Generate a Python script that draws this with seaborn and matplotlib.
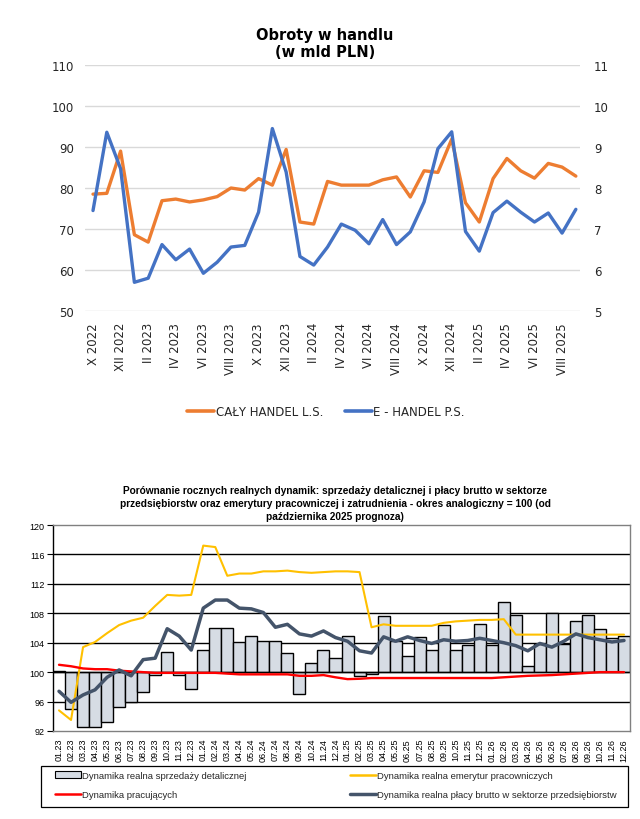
import numpy as np
import pandas as pd
import matplotlib
matplotlib.use("Agg")
import matplotlib.pyplot as plt
import seaborn as sns
from matplotlib.patches import Patch, Rectangle
from matplotlib.lines import Line2D

# ---------------- data: top chart ----------------
months_top = ["X 2022", "XI 2022", "XII 2022", "I 2023", "II 2023", "III 2023",
              "IV 2023", "V 2023", "VI 2023", "VII 2023", "VIII 2023", "IX 2023",
              "X 2023", "XI 2023", "XII 2023", "I 2024", "II 2024", "III 2024",
              "IV 2024", "V 2024", "VI 2024", "VII 2024", "VIII 2024", "IX 2024",
              "X 2024", "XI 2024", "XII 2024", "I 2025", "II 2025", "III 2025",
              "IV 2025", "V 2025", "VI 2025", "VII 2025", "VIII 2025", "IX 2025"]
caly_handel = [78.5, 78.7, 89.0, 68.6, 66.8, 76.9, 77.3, 76.6, 77.1, 77.9, 80.0, 79.5,
               82.3, 80.7, 89.4, 71.7, 71.2, 81.6, 80.7, 80.7, 80.7, 82.0, 82.7, 77.8,
               84.2, 83.8, 91.9, 76.4, 71.7, 82.3, 87.2, 84.2, 82.4, 86.0, 85.1, 82.9]
e_handel = [7.45, 9.36, 8.47, 5.70, 5.80, 6.62, 6.25, 6.51, 5.92, 6.19, 6.56, 6.60,
            7.41, 9.45, 8.39, 6.33, 6.12, 6.56, 7.12, 6.97, 6.64, 7.23, 6.62, 6.93,
            7.66, 8.96, 9.37, 6.94, 6.46, 7.40, 7.68, 7.41, 7.17, 7.39, 6.90, 7.48]

# ---------------- data: bottom chart ----------------
okresy = ["01.23", "02.23", "03.23", "04.23", "05.23", "06.23", "07.23", "08.23",
          "09.23", "10.23", "11.23", "12.23", "01.24", "02.24", "03.24", "04.24",
          "05.24", "06.24", "07.24", "08.24", "09.24", "10.24", "11.24", "12.24",
          "01.25", "02.25", "03.25", "04.25", "05.25", "06.25", "07.25", "08.25",
          "09.25", "10.25", "11.25", "12.25", "01.26", "02.26", "03.26", "04.26",
          "05.26", "06.26", "07.26", "08.26", "09.26", "10.26", "11.26", "12.26"]
sprzedaz = [100.1, 95.0, 92.6, 92.6, 93.2, 95.3, 96.0, 97.3, 99.6, 102.7, 99.6, 97.7,
            103.0, 106.0, 106.0, 104.1, 104.9, 104.3, 104.3, 102.6, 97.0, 101.2, 103.0, 101.9,
            104.9, 99.5, 99.7, 107.6, 104.3, 102.2, 104.8, 103.0, 106.4, 103.0, 103.7, 106.5,
            103.7, 109.5, 107.7, 100.9, 103.8, 108.1, 103.8, 106.9, 107.8, 105.8, 104.7, 104.9]
emerytury = [94.8, 93.5, 103.4, 104.1, 105.3, 106.4, 107.0, 107.4, 109.0, 110.5, 110.4, 110.5,
             117.2, 117.0, 113.1, 113.4, 113.4, 113.7, 113.7, 113.8, 113.6, 113.5, 113.6, 113.7,
             113.7, 113.6, 106.1, 106.5, 106.3, 106.3, 106.3, 106.3, 106.7, 106.9, 107.0, 107.1,
             107.1, 107.2, 105.1, 105.1, 105.1, 105.1, 105.1, 105.1, 105.1, 105.1, 105.1, 105.1]
pracujacy = [101.0, 100.8, 100.5, 100.4, 100.4, 100.2, 100.1, 100.0, 99.9, 99.9, 99.9, 99.9,
             99.9, 99.9, 99.8, 99.7, 99.7, 99.7, 99.7, 99.7, 99.5, 99.5, 99.6, 99.3,
             99.05, 99.1, 99.2, 99.2, 99.2, 99.2, 99.2, 99.2, 99.2, 99.2, 99.2, 99.2,
             99.2, 99.3, 99.4, 99.5, 99.55, 99.6, 99.7, 99.8, 99.9, 100.0, 100.0, 100.0]
placa = [97.4, 95.9, 96.9, 97.6, 99.3, 100.3, 99.5, 101.7, 101.9, 105.9, 104.9, 103.0,
         108.7, 109.8, 109.8, 108.7, 108.6, 108.1, 106.1, 106.5, 105.2, 104.9, 105.6, 104.7,
         104.2, 102.9, 102.6, 104.8, 104.2, 104.8, 104.3, 103.9, 104.4, 104.2, 104.3, 104.6,
         104.3, 104.0, 103.6, 102.9, 103.9, 103.4, 104.2, 105.2, 104.7, 104.4, 104.1, 104.3]

sns.set_theme(style="white")
plt.rcParams['font.family'] = ['DejaVu Sans']

W, H = 640, 820
fig = plt.figure(figsize=(6.4, 8.2), dpi=100)

# ================= top chart =================
ax1 = fig.add_axes([85 / W, 1 - 312 / H, 495 / W, 246 / H])
xt = np.arange(len(months_top))
top_df = pd.DataFrame({"i": xt, "caly": caly_handel, "eh": e_handel})
sns.lineplot(data=top_df, x="i", y="caly", ax=ax1, color="#ED7D31", lw=2.4)
ax2 = ax1.twinx()
sns.lineplot(data=top_df, x="i", y="eh", ax=ax2, color="#4472C4", lw=2.4)

ax1.set_xlim(-0.58, 35.3)
ax1.set_ylim(50, 110)
ax2.set_ylim(5, 11)
ax1.set_yticks(np.arange(50, 111, 10))
ax2.set_yticks(np.arange(5, 12, 1))
ax1.yaxis.grid(True, color="#D9D9D9", lw=1.0)
ax1.set_axisbelow(True)
for a in (ax1, ax2):
    for s in a.spines.values():
        s.set_visible(False)
    a.set_xlabel("")
    a.set_ylabel("")
    a.tick_params(length=0, labelsize=8.5, colors="#262626")
ax1.tick_params(axis="y", pad=8)
ax2.tick_params(axis="y", pad=10)
ax1.set_xticks(xt[::2])
ax1.set_xticklabels(months_top[::2], rotation=90)
ax1.tick_params(axis="x", pad=8)

fig.text(0.508, 1 - 44 / H, "Obroty w handlu\n(w mld PLN)", ha="center", va="center",
         fontsize=10.5, fontweight="bold", linespacing=1.15, color="black")

fig.legend(handles=[Line2D([], [], color="#ED7D31", lw=2.6),
                    Line2D([], [], color="#4472C4", lw=2.6)],
           labels=["CAŁY HANDEL L.S.", "E - HANDEL P.S."],
           loc="center", bbox_to_anchor=(326 / W, 1 - 413 / H), ncol=2, frameon=False,
           fontsize=8.5, handlelength=2.3, handletextpad=0.15, columnspacing=1.8,
           labelcolor="#262626")

# ================= bottom chart =================
plt.rcParams['font.family'] = ['Liberation Sans', 'DejaVu Sans']
ax3 = fig.add_axes([53 / W, 1 - 732 / H, 577 / W, 206 / H])
xb = np.arange(len(okresy))
bot_df = pd.DataFrame({"i": xb, "okres": okresy,
                       "delta": np.array(sprzedaz) - 100.0,
                       "emerytury": emerytury, "pracujacy": pracujacy, "placa": placa})

for yv in [96, 104, 108, 112, 116]:
    ax3.axhline(yv, color="black", lw=1.0, zorder=0.5)

sns.barplot(data=bot_df, x="i", y="delta", ax=ax3, native_scale=True, width=1.0,
            bottom=100, color="#D6DCE4", edgecolor="black", linewidth=1.0,
            saturation=1, errorbar=None, zorder=1)
ax3.axhline(100, color="black", lw=1.0, zorder=1.6)
sns.lineplot(data=bot_df, x="i", y="emerytury", ax=ax3, color="#FFC000", lw=1.5, zorder=2)
sns.lineplot(data=bot_df, x="i", y="pracujacy", ax=ax3, color="#FF0000", lw=1.7, zorder=2.1)
sns.lineplot(data=bot_df, x="i", y="placa", ax=ax3, color="#44546A", lw=2.5, zorder=2.2)

ax3.set_xlim(-0.5, 47.5)
ax3.set_ylim(92, 120)
ax3.set_yticks(np.arange(92, 121, 4))
ax3.set_xticks(xb)
ax3.set_xticklabels(okresy, rotation=90)
ax3.tick_params(axis="x", length=0, labelsize=6.5, pad=5, colors="black")
ax3.tick_params(axis="y", length=4, width=0.8, direction="out", left=True,
                labelsize=6.5, pad=2, colors="black")
ax3.set_xlabel("")
ax3.set_ylabel("")
ax3.spines["left"].set_color("black")
ax3.spines["left"].set_linewidth(1.0)
for s in ("top", "right", "bottom"):
    ax3.spines[s].set_color("#808080")
    ax3.spines[s].set_linewidth(1.0)

fig.text(335 / W, 1 - 504 / H,
         "Porównanie rocznych realnych dynamik: sprzedaży detalicznej i płacy brutto w sektorze\n"
         "przedsiębiorstw oraz emerytury pracowniczej i zatrudnienia - okres analogiczny = 100 (od\n"
         "października 2025 prognoza)",
         ha="center", va="center", fontsize=7.3, fontweight="bold", linespacing=1.35,
         family=["Liberation Sans", "DejaVu Sans"], color="black")

# legend frame (style element) and two legend columns
fig.patches.append(Rectangle((41 / W, 1 - 808 / H), 587 / W, 41 / H,
                             transform=fig.transFigure, fill=False,
                             edgecolor="black", lw=0.9))
leg_kw = dict(loc="upper left", frameon=False, fontsize=6.8, handlelength=2.7,
              handleheight=0.8, handletextpad=0.15, labelspacing=1.1,
              borderpad=0, borderaxespad=0)
fig.legend(handles=[Patch(facecolor="#D6DCE4", edgecolor="black", linewidth=0.8),
                    Line2D([], [], color="#FF0000", lw=1.8)],
           labels=["Dynamika realna sprzedaży detalicznej", "Dynamika pracujących"],
           bbox_to_anchor=(55 / W, 1 - 772 / H), **leg_kw)
fig.legend(handles=[Line2D([], [], color="#FFC000", lw=1.8),
                    Line2D([], [], color="#44546A", lw=2.5)],
           labels=["Dynamika realna emerytur pracowniczych",
                   "Dynamika realna płacy brutto w sektorze przedsiębiorstw"],
           bbox_to_anchor=(350 / W, 1 - 772 / H), **leg_kw)

fig.savefig("out.png", dpi=100, facecolor="white")
